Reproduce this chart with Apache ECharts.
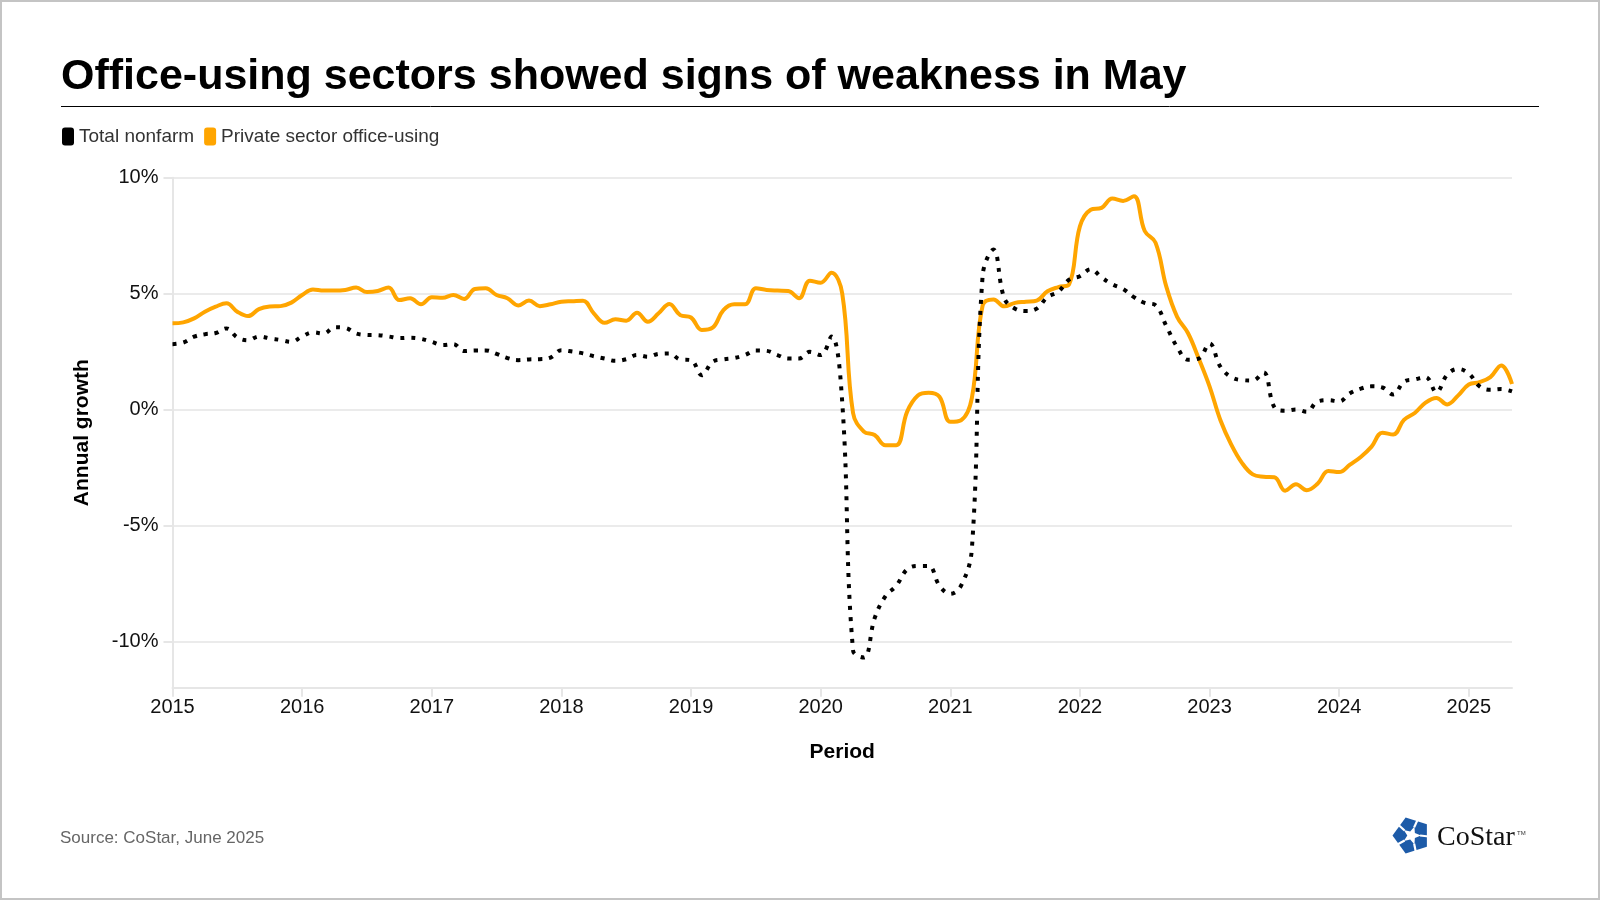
<!DOCTYPE html>
<html><head><meta charset="utf-8">
<script src="https://cdn.jsdelivr.net/npm/echarts@6/dist/echarts.min.js"></script>
<style>html,body{margin:0;padding:0;background:#fff}#c{width:1600px;height:900px}</style>
</head><body><div id="c"></div>
<script>
const seriesNames = ['Total nonfarm', 'Private sector office-using'];
const startYear = 2015;
const totalNonfarm = [
 2.82,2.89,3.14,3.25,3.30,3.50,3.11,2.99,3.15,3.07,3.00,2.92,
 3.15,3.33,3.28,3.55,3.52,3.28,3.22,3.21,3.15,3.08,3.10,3.05,
 2.92,2.78,2.82,2.52,2.55,2.55,2.40,2.22,2.13,2.16,2.17,2.24,
 2.56,2.50,2.42,2.30,2.20,2.10,2.17,2.35,2.28,2.40,2.42,2.16,
 2.13,1.48,2.06,2.16,2.22,2.35,2.55,2.53,2.35,2.20,2.20,2.49,
 2.35,3.15,0.30,-10.40,-10.70,-9.00,-8.05,-7.60,-6.90,-6.75,-6.75,-7.60,
 -7.95,-7.60,-6.00,5.80,6.90,4.80,4.35,4.25,4.35,4.85,5.08,5.60,
 5.75,6.05,5.70,5.40,5.20,4.85,4.60,4.50,3.60,2.70,2.15,2.20,
 2.85,1.85,1.40,1.27,1.25,1.60,0.10,-0.05,0.00,-0.10,0.35,0.40,
 0.35,0.70,0.90,1.00,0.95,0.65,1.20,1.30,1.40,0.75,1.50,1.75,
 1.55,1.00,0.85,0.88,0.78
];
const privateOffice = [
 3.72,3.76,3.93,4.22,4.44,4.58,4.22,4.03,4.33,4.44,4.46,4.61,
 4.94,5.18,5.13,5.13,5.16,5.26,5.07,5.11,5.26,4.72,4.80,4.54,
 4.84,4.82,4.94,4.77,5.20,5.23,4.94,4.80,4.49,4.70,4.46,4.54,
 4.65,4.67,4.69,4.15,3.74,3.89,3.83,4.17,3.79,4.15,4.55,4.07,
 3.97,3.43,3.53,4.29,4.54,4.54,5.23,5.16,5.13,5.11,4.80,5.56,
 5.47,5.90,5.00,-0.15,-0.95,-1.10,-1.54,-1.54,-0.10,0.60,0.72,0.55,
 -0.53,-0.46,0.50,4.50,4.75,4.45,4.60,4.65,4.70,5.10,5.28,5.40,
 7.90,8.62,8.70,9.10,9.00,9.20,7.70,7.20,5.30,4.00,3.30,2.20,
 1.00,-0.45,-1.50,-2.30,-2.80,-2.90,-2.92,-3.50,-3.22,-3.48,-3.20,-2.65,
 -2.70,-2.38,-2.05,-1.60,-1.00,-1.08,-0.45,-0.15,0.30,0.50,0.22,0.60,
 1.08,1.18,1.40,1.90,1.10
];
const yTickValues = [-10, -5, 0, 5, 10];

const months = [];
for (let k = 0; k < totalNonfarm.length; k++) {
  const y = startYear + Math.floor(k / 12);
  const m = (k % 12) + 1;
  months.push(y + '-' + String(m).padStart(2, '0'));
}

// logo geometry (decoration)
const lcx = 1411.5, lcy = 835.5, LR = 19, rot = -18;
function pt(r, a) { return [lcx + r * Math.cos(a * Math.PI / 180), lcy + r * Math.sin(a * Math.PI / 180)]; }
const pent = [0,1,2,3,4].map(k => pt(LR, -90 + rot + 72 * k));
const star = [];
for (let k = 0; k < 10; k++) {
  const r = k % 2 === 0 ? LR * 0.5 : LR * 0.22;
  star.push(pt(r, -90 + rot + 36 + 36 * k));
}
const gaps = [0,1,2,3,4].map(k => {
  const a = pt(LR*0.45, -54 + rot + 72*k), b = pt(LR*1.15, -50 + rot + 72*k);
  return { type: 'line', shape: { x1: a[0], y1: a[1], x2: b[0], y2: b[1] },
    style: { stroke: '#fff', lineWidth: 2.2 }, z: 102 };
});

const FONT = 'Liberation Sans, Arial, sans-serif';
const chart = echarts.init(document.getElementById('c'), null, { renderer: 'canvas', width: 1600, height: 900 });
chart.setOption({
  backgroundColor: '#fff',
  animation: false,
  title: {
    text: 'Office-using sectors showed signs of weakness in May',
    left: 56, top: 51,
    textStyle: { fontFamily: FONT, fontSize: 43, fontWeight: 'bold', color: '#000' }
  },
  legend: {
    left: 57, top: 122,
    icon: 'roundRect', itemWidth: 12, itemHeight: 18, itemGap: 10,
    textStyle: { fontFamily: FONT, fontSize: 19, color: '#333' },
    data: seriesNames
  },
  grid: { left: 172.5, right: 88, top: 177.7, bottom: 212.3, outerBoundsMode: 'none', containLabel: false },
  xAxis: {
    type: 'category',
    data: months,
    boundaryGap: false,
    name: 'Period', nameLocation: 'middle', nameGap: 54,
    nameTextStyle: { fontFamily: FONT, fontSize: 21, fontWeight: 'bold', color: '#000' },
    axisLine: { show: true, onZero: false, lineStyle: { color: '#e6e6e6', width: 2 } },
    axisTick: { show: true, length: 9, interval: (i) => i % 12 === 0, lineStyle: { color: '#e6e6e6', width: 2 } },
    axisLabel: {
      interval: (i) => i % 12 === 0,
      formatter: (v) => v.slice(0, 4),
      margin: 10,
      fontFamily: FONT, fontSize: 20, color: '#111'
    },
    splitLine: { show: false }
  },
  yAxis: {
    type: 'value', min: -12, max: 10,
    name: 'Annual growth', nameLocation: 'middle', nameGap: 80,
    nameTextStyle: { fontFamily: FONT, fontSize: 21, fontWeight: 'bold', color: '#000' },
    axisLine: { show: true, lineStyle: { color: '#e6e6e6', width: 2 } },
    axisTick: { show: true, length: 9, customValues: yTickValues, lineStyle: { color: '#e6e6e6', width: 2 } },
    axisLabel: {
      customValues: yTickValues,
      formatter: (v) => v + '%',
      margin: 14,
      fontFamily: FONT, fontSize: 20, color: '#111'
    },
    splitLine: { show: true, lineStyle: { color: '#ebebeb', width: 2 } }
  },
  series: [
    {
      name: seriesNames[0], type: 'line', data: totalNonfarm,
      symbol: 'none', smooth: 0.4,
      itemStyle: { color: '#000' },
      lineStyle: { color: '#000', width: 4, type: [4, 7], cap: 'butt' },
      z: 3
    },
    {
      name: seriesNames[1], type: 'line', data: privateOffice,
      symbol: 'none', smooth: 0.4,
      itemStyle: { color: '#ffa500' },
      lineStyle: { color: '#ffa500', width: 4 },
      z: 2
    }
  ],
  graphic: [
    { type: 'rect', shape: { x: 1, y: 1, width: 1598, height: 898 }, style: { fill: 'none', stroke: '#c4c4c4', lineWidth: 2 }, z: 200, silent: true },
    { type: 'line', shape: { x1: 61, y1: 106.5, x2: 1539, y2: 106.5 }, style: { stroke: '#000', lineWidth: 1 }, z: 100 },
    { type: 'text', x: 60, y: 838, style: { text: 'Source: CoStar, June 2025', fontFamily: FONT, fontSize: 17, fill: '#666', verticalAlign: 'middle' }, z: 100 },
    { type: 'polygon', shape: { points: pent }, style: { fill: '#1d5ba8' }, z: 100 },
    { type: 'polygon', shape: { points: star }, style: { fill: '#fff' }, z: 101 },
    ...gaps,
    { type: 'text', x: 1437, y: 838, style: { text: 'CoStar', fontFamily: 'Liberation Serif, Times New Roman, serif', fontSize: 28, fill: '#111', verticalAlign: 'middle' }, z: 100 },
    { type: 'text', x: 1517, y: 833, style: { text: 'TM', fontFamily: FONT, fontSize: 6, fill: '#333', verticalAlign: 'middle' }, z: 100 }
  ]
});
</script></body></html>
